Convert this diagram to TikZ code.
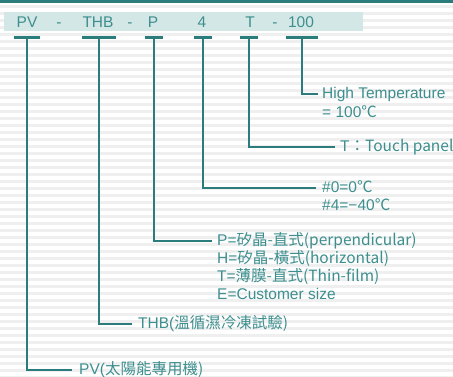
\documentclass[tikz,border=0pt]{standalone}
\usepackage{fontspec}
\setmainfont{Liberation Sans}
\newfontfamily\cjk{Noto Sans CJK TC}
\usetikzlibrary{positioning,calc}
\definecolor{lineteal}{HTML}{2B7C7C}
\definecolor{textteal}{HTML}{3D8E8E}
\definecolor{bandteal}{HTML}{D3E8E6}
\definecolor{stripegray}{HTML}{EFEFEF}

\begin{document}
\begin{tikzpicture}[x=1pt,y=-1pt,
  code/.style={text=textteal, font=\fontsize{15.5}{18}\selectfont, inner sep=0pt, anchor=base},
  desc/.style={text=textteal, font=\fontsize{15.5}{18}\selectfont, inner sep=0pt, anchor=west,
    text height=11pt, text depth=3pt},
  tbar/.style={lineteal, line width=3pt},
  leader/.style={lineteal, line width=2.2pt}]
\useasboundingbox (0,0) rectangle (453,376);
% background
\fill[white] (0,0) rectangle (453,376);
\foreach \y in {5,12,...,376}
  \fill[stripegray] (0,\y) rectangle (453,\y+3);
\fill[lineteal] (0,0) rectangle (453,2.5);
\fill[bandteal] (4,12) rectangle (363,31);
% code line
\node[code] (cPV) at (27,27) {PV};
\node[code] (cDashA) at (59,27) {-};
\node[code] (cTHB) at (98,27) {THB};
\node[code] (cDashB) at (130,27) {-};
\node[code] (cP) at (153,27) {P};
\node[code] (cFour) at (202,27) {4};
\node[code] (cT) at (250,27) {T};
\node[code] (cDashC) at (275,27) {-};
\node[code] (cHundred) at (301,27) {100};
% bars under each field
\foreach \name/\xx/\hw in {PV/27/13, THB/99/17, P/154/9, Four/203/9, T/249/9, Hundred/302/16} {
  \coordinate (b\name) at (\xx,37);
  \draw[tbar] ([xshift=-\hw pt]b\name) -- ([xshift=\hw pt]b\name);
}
% descriptions
\node[desc] (dHundred) at (322,94) {High Temperature};
\node[desc] (dHundredB) at ($(dHundred.west)+(0,19)$) {= 100\cjk{℃}};
\node[desc] (dT) at (340,147) {T\cjk{：}Touch panel};
\node[desc] (dFour) at (322,188) {\#0=0\cjk{℃}};
\node[desc] (dFourB) at ($(dFour.west)+(0,18)$) {\#4=−40\cjk{℃}};
\node[desc] (dP) at (217,241) {P=\cjk{矽晶}-\cjk{直式}(perpendicular)};
\node[desc] (dPB) at ($(dP.west)+(0,18)$) {H=\cjk{矽晶}-\cjk{橫式}(horizontal)};
\node[desc] (dPC) at ($(dPB.west)+(0,18)$) {T=\cjk{薄膜}-\cjk{直式}(Thin-film)};
\node[desc] (dPD) at ($(dPC.west)+(0,18)$) {E=Customer size};
\node[desc] (dTHB) at (138,324) {THB(\cjk{溫循濕冷凍試驗})};
\node[desc] (dPV) at (79,370) {PV(\cjk{太陽能專用機})};
% leaders
\draw[leader] (bHundred) |- ([xshift=-4pt]dHundred.west);
\draw[leader] (bT) |- ([xshift=-5pt]dT.west);
\draw[leader] (bFour) |- ([xshift=-6pt]dFour.west);
\draw[leader] (bP) |- ([xshift=-5pt]dP.west);
\draw[leader] (bTHB) |- ([xshift=-6pt]dTHB.west);
\draw[leader] (bPV) |- ([xshift=-7pt]dPV.west);
\end{tikzpicture}
\end{document}
